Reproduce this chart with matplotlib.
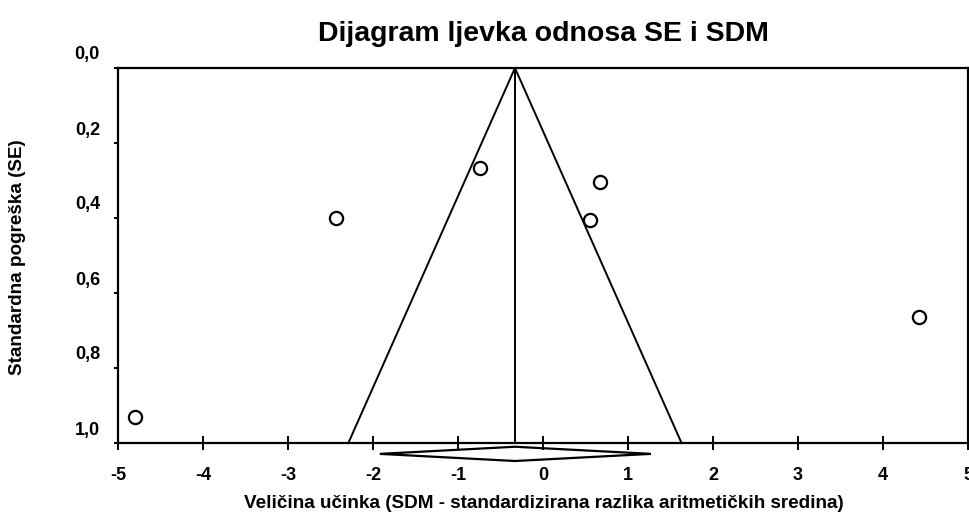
import matplotlib
matplotlib.use("Agg")
import matplotlib.pyplot as plt
from matplotlib.patches import Polygon
import matplotlib.transforms as mtransforms
import numpy as np

plt.rcParams['font.family'] = ['Liberation Sans', 'DejaVu Sans']

# Data
smd = [-4.80, -2.44, -0.74, 0.674, 0.556, 4.42]
se = [0.930, 0.399, 0.267, 0.303, 0.405, 0.663]
pooled = -0.33
ci_low = -1.92
ci_high = 1.27
se_max = 1.0
x_ticks = [-5, -4, -3, -2, -1, 0, 1, 2, 3, 4, 5]
y_ticks = [0.0, 0.2, 0.4, 0.6, 0.8, 1.0]
y_tick_labels = ['0,0', '0,2', '0,4', '0,6', '0,8', '1,0']

fig = plt.figure(figsize=(9.7, 5.26), dpi=100)
ax = fig.add_axes([118/970, 1-443/526, 850/970, 375/526])

ax.set_xlim(-5, 5)
ax.set_ylim(1.0, 0.0)

# Funnel
ax.plot([pooled - 1.96*se_max, pooled, pooled + 1.96*se_max], [se_max, 0, se_max],
        color='black', lw=1.4, clip_on=False)
ax.plot([pooled, pooled], [0, se_max], color='black', lw=1.4)

# Points
ax.plot(smd, se, 'o', mfc='white', mec='black', mew=1.6, ms=9.5, clip_on=False, zorder=5)

# Diamond below axis
yd = 1.029
hh = 0.019
dia = Polygon([[ci_low, yd], [pooled, yd - hh], [ci_high, yd], [pooled, yd + hh]],
              closed=True, facecolor='white', edgecolor='black', lw=1.6, clip_on=False)
ax.add_patch(dia)

for s in ax.spines.values():
    s.set_linewidth(1.6)

ax.set_xticks(x_ticks)
ax.set_xticklabels([str(t) for t in x_ticks], fontsize=13, fontweight='bold')
ax.tick_params(axis='x', direction='inout', length=10, width=1.4, pad=12)
ax.set_yticks(y_ticks)
ax.set_yticklabels(y_tick_labels, fontsize=13, fontweight='bold')
ax.tick_params(axis='y', direction='out', length=3, width=1.4, pad=10)
offset = mtransforms.ScaledTranslation(0, 15/100, fig.dpi_scale_trans)
for lab in ax.get_yticklabels():
    lab.set_transform(lab.get_transform() + offset)

fig.text(543/970, 1-34/526, 'Dijagram ljevka odnosa SE i SDM', ha='center', va='center',
         fontsize=20.5, fontweight='bold')
fig.text(544/970, 1-503/526, 'Veličina učinka (SDM - standardizirana razlika aritmetičkih sredina)',
         ha='center', va='center', fontsize=13.6, fontweight='bold')
fig.text(18/970, 1-257/526, 'Standardna pogreška (SE)', ha='center', va='center',
         rotation=90, fontsize=13.6, fontweight='bold')

fig.savefig('out.png', dpi=100)
